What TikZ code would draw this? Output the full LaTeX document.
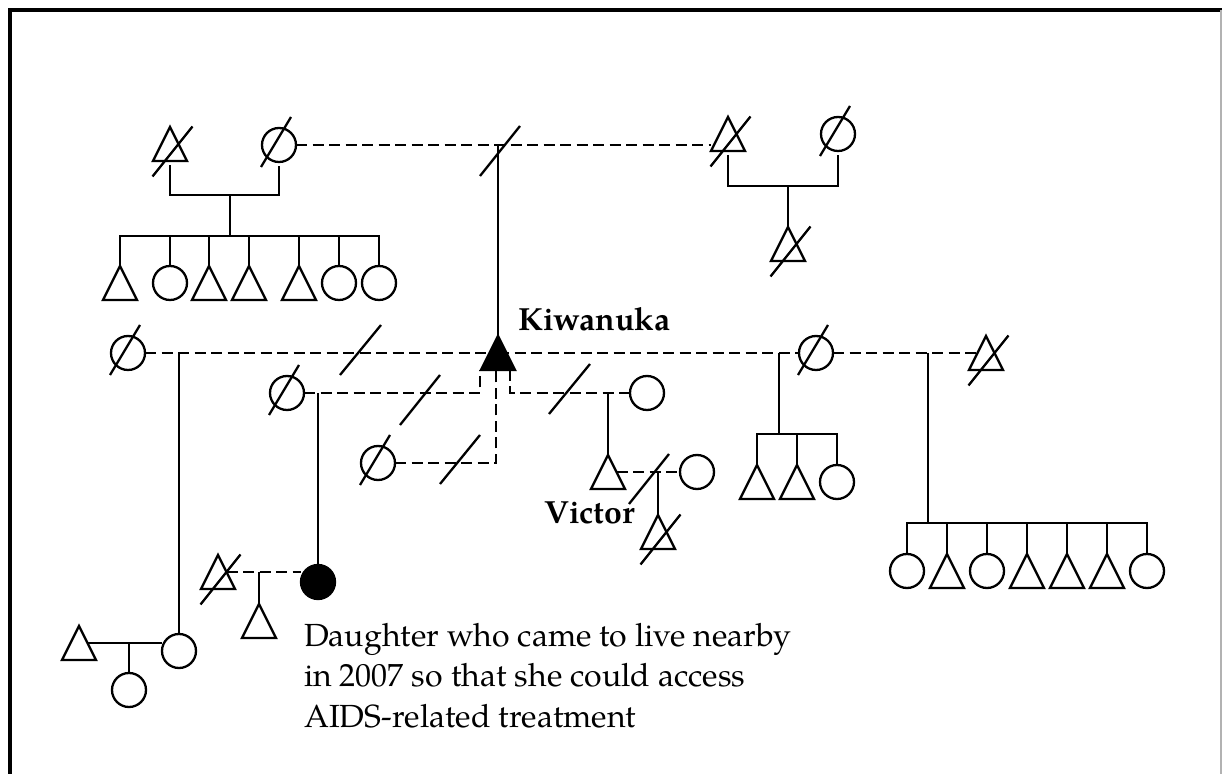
\documentclass[tikz,border=0pt]{standalone}
\usepackage{fontspec}
\setmainfont{TeX Gyre Pagella}
\usetikzlibrary{calc}
\tikzset{
  sym/.style={inner sep=0pt, outer sep=0pt, minimum width=17pt, minimum height=17pt, line width=1.15pt},
  female/.style={sym, circle, draw},
  dfemale/.style={female, append after command={\pgfextra{\draw[line width=1.15pt] ([shift={(-9pt,-11pt)}]\tikzlastnode.center) -- ([shift={(6pt,14pt)}]\tikzlastnode.center);}}},
  ffemale/.style={female, fill=black},
  male/.style={sym, rectangle, append after command={\pgfextra{\draw[line width=1.15pt] (\tikzlastnode.south west) -- (\tikzlastnode.north) -- (\tikzlastnode.south east) -- cycle;}}},
  dmale/.style={male, append after command={\pgfextra{\draw[line width=1.15pt] ([shift={(-8.75pt,-16.25pt)}]\tikzlastnode.center) -- ([shift={(11.25pt,8.75pt)}]\tikzlastnode.center);}}},
  fmale/.style={sym, rectangle, append after command={\pgfextra{\filldraw[line width=1.15pt] (\tikzlastnode.south west) -- (\tikzlastnode.north) -- (\tikzlastnode.south east) -- cycle;}}},
  dashline/.style={dash pattern=on 5.5pt off 2.75pt},
  lbl/.style={anchor=base west, inner sep=0pt, font=\fontsize{16pt}{19pt}\selectfont},
  blbl/.style={lbl, font=\fontsize{16pt}{19pt}\selectfont\bfseries}
}
\begin{document}
\begin{tikzpicture}[x=0.5pt, y=-0.5pt, line width=1.15pt]
\useasboundingbox (0,0) rectangle (1222,774);
% frame
\draw[line width=2pt] (10,774) -- (10,10) -- (1222,10);
\draw[line width=0.6pt, black!30] (1221,10) -- (1221,774);

% grandparents
\node[dmale] (gf1) at (170,144) {};
\node[dfemale] (gm1) at (279,145) {};
\node[dmale] (gf2) at (728,134) {};
\node[dfemale] (gm2) at (838,134) {};
% siblings top-left
\node[male] (s1) at (120,283) {};
\node[female] (s2) at (170,283) {};
\node[male] (s3) at (209,283) {};
\node[male] (s4) at (249,283) {};
\node[male] (s5) at (299,283) {};
\node[female] (s6) at (339,283) {};
\node[female] (s7) at (379,283) {};
\node[dmale] (hs) at (788,244) {};
% Kiwanuka and wives
\node[fmale] (K) at (498,353) {};
\node[dfemale] (w1) at (128,353) {};
\node[dfemale] (w2) at (287,393) {};
\node[dfemale] (w3) at (378,463) {};
\node[female] (w4) at (647,393) {};
\node[dfemale] (w5) at (816,353) {};
\node[dmale] (w6) at (986,353) {};
% Victor
\node[male] (V) at (608,472) {};
\node[female] (vp) at (697,472) {};
\node[dmale] (vc) at (658,532) {};
% children of w5
\node[male] (k1) at (757,482) {};
\node[male] (k2) at (797,482) {};
\node[female] (k3) at (837,482) {};
% children of w5 and w6
\node[female] (r1) at (907,571) {};
\node[male] (r2) at (947,571) {};
\node[female] (r3) at (987,571) {};
\node[male] (r4) at (1027,571) {};
\node[male] (r5) at (1067,571) {};
\node[male] (r6) at (1107,571) {};
\node[female] (r7) at (1147,571) {};
% w1 branch
\node[female] (d1) at (179,651) {};
\node[male] (h1) at (79,643) {};
\node[female] (gc) at (129,690) {};
% daughter branch
\node[ffemale] (D) at (318,582) {};
\node[dmale] (dh) at (218,572) {};
\node[male] (dc) at (259,621) {};

% labels
\node[blbl] (kt) at (517,331) {Kiwanuka};
\node[blbl] (vt) at (543,524) {Victor};
\node[lbl] (t1) at (303,647) {Daughter who came to live nearby};
\node[lbl] (t2) at (303,687) {in 2007 so that she could access};
\node[lbl] (t3) at (303,728) {AIDS-related treatment};

% connectors: top-left family
\coordinate (m1) at (230,195);
\coordinate (sib1) at (230,236);
\draw ([yshift=-2pt]gf1.south) |- (m1) -| ([yshift=-2pt]gm1.south);
\draw (m1) -- (sib1);
\draw (s1.north) |- (s7.north |- sib1) -- (s7.north);
\foreach \c in {s2,s3,s4,s5,s6} \draw (\c.north) -- (\c.north |- sib1);
% gm1 -- gf2
\draw[dashline] (gm1.east) -- (gm1.east -| gf2.west);
\draw (K.north) -- (K.north |- gm1.east);
\draw (480,176) -- (520,126);
% top-right family
\coordinate (m2) at (788,186);
\draw ([yshift=-2pt]gf2.south) |- (m2) -| ([yshift=-2pt]gm2.south);
\draw (m2) -- (hs.north);
% w1
\draw[dashline] (w1.east) -- (K.center);
\draw (340,375) -- (381,325);
\draw (d1.north) -- (d1.north |- w1.east);
\draw ($(h1.north)!.5!(h1.south east)$) -- (h1.east -| d1.west);
\draw (gc.north) -- (gc.north |- h1.east);
% w2
\draw[dashline] (w2.east) -| ([xshift=-9pt]K.south);
\draw (400,425) -- (440,375);
\draw (D.north) -- (D.north |- w2.east);
\draw[dashline] ($(dh.north)!.5!(dh.south east)$) -- (dh.east -| D.west);
\draw (dc.north) -- (dc.north |- dh.east);
% w3
\draw[dashline] (w3.east) -| ([xshift=-1pt]K.south);
\draw (440,484) -- (480,435);
% w4
\draw[dashline] ([xshift=6pt]K.south) |- (w4.west);
\draw (549,414) -- (590,364);
\draw (V.north) -- (V.north |- w4.west);
\draw[dashline] ($(V.north)!.5!(V.south east)$) -- (vp.west);
\draw (629,504) -- (669,454);
\draw (vc.north) -- (vc.north |- vp.west);
% w5
\draw[dashline] (K.center) -- (w5.west);
\coordinate (j3) at (779,353);
\coordinate (b3) at (779,434);
\draw (j3) -- (b3);
\draw (k1.north) |- (b3) -| (k3.north);
\draw (k2.north) -- (k2.north |- b3);
% w5 -- w6
\draw[dashline] (w5.east) -- ($(w6.north)!.5!(w6.south west)$);
\coordinate (j4) at (928,353);
\coordinate (b4) at (928,523);
\draw (j4) -- (b4);
\draw (r1.north) |- (b4) -| (r7.north);
\foreach \c in {r2,r3,r4,r5,r6} \draw (\c.north) -- (\c.north |- b4);
\end{tikzpicture}
\end{document}
